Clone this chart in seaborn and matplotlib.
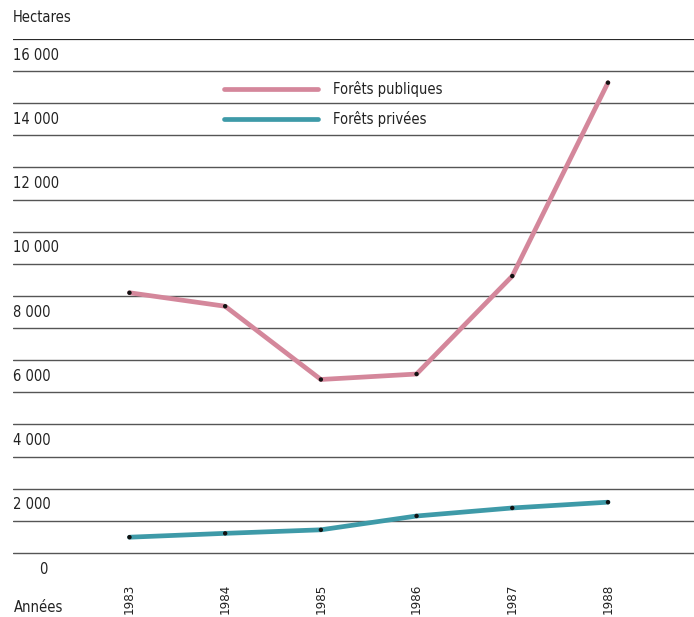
import matplotlib
matplotlib.use("Agg")
import matplotlib.pyplot as plt
import matplotlib.transforms as mtransforms
import pandas as pd
import seaborn as sns

years = ["1983", "1984", "1985", "1986", "1987", "1988"]
publiques = [8600, 8180, 5900, 6070, 9120, 15140]
privees = [990, 1110, 1220, 1650, 1900, 2080]
series_names = ["Forêts publiques", "Forêts privées"]
series_colors = ["#d4879b", "#3e9aa8"]
y_labels = [0, 2000, 4000, 6000, 8000, 10000, 12000, 14000, 16000]
grid_lines = [500 + 1000 * k for k in range(17)]

sns.set_theme(style="white")
plt.rcParams["font.family"] = ["DejaVu Sans"]
plt.rcParams["font.stretch"] = "condensed"

df = pd.DataFrame({
    "pos": list(range(len(years))) * 2,
    "hectares": publiques + privees,
    "serie": [series_names[0]] * len(years) + [series_names[1]] * len(years),
})

fig = plt.figure(figsize=(6.94, 6.17), dpi=100)
ax = fig.add_axes([13 / 694, 48 / 617, 1 - 13 / 694, (569 - 39) / 617])

# horizontal rules sit halfway between the labelled values
for i, y in enumerate(grid_lines):
    top = i == len(grid_lines) - 1
    ax.axhline(y, color="#2a2a2a" if top else "#555555", lw=1.6 if top else 1.0, zorder=1)

sns.lineplot(data=df, x="pos", y="hectares", hue="serie", palette=series_colors,
             hue_order=series_names, lw=3.4, ax=ax, zorder=3)
sns.scatterplot(data=df, x="pos", y="hectares", color="#111111", s=10,
                edgecolor="none", ax=ax, zorder=4, legend=False)

ax.set_xlim(-1.217, 5.899)
ax.set_ylim(0, 16500)
for s in ax.spines.values():
    s.set_visible(False)

ax.set_xticks(range(len(years)))
ax.set_xticklabels(years, rotation=90, fontsize=9.5, color="#222222", va="top")
ax.tick_params(axis="x", length=0, pad=10.5)
ax.set_yticks([])
ax.set_xlabel("")
ax.set_ylabel("")

trans = mtransforms.blended_transform_factory(ax.transAxes, ax.transData)
for v in y_labels:
    lab = f"{v // 1000} 000" if v else "0"
    ax.text(0.0 if v else 0.038, v, lab, transform=trans, ha="left", va="center",
            fontsize=10.5, color="#222222")

fig.text(13 / 694, 1 - 18 / 617, "Hectares", ha="left", va="center",
         fontsize=10.5, color="#222222")
fig.text(14 / 694, 1 - 607 / 617, "Années", ha="left", va="center",
         fontsize=10.5, color="#222222")

leg = ax.legend(loc="upper left", bbox_to_anchor=(0.29, 0.946), frameon=False,
                handlelength=6.5, handletextpad=1.0, labelspacing=1.0, fontsize=10.5)
for t in leg.get_texts():
    t.set_color("#222222")

fig.savefig("out.png", dpi=100)
